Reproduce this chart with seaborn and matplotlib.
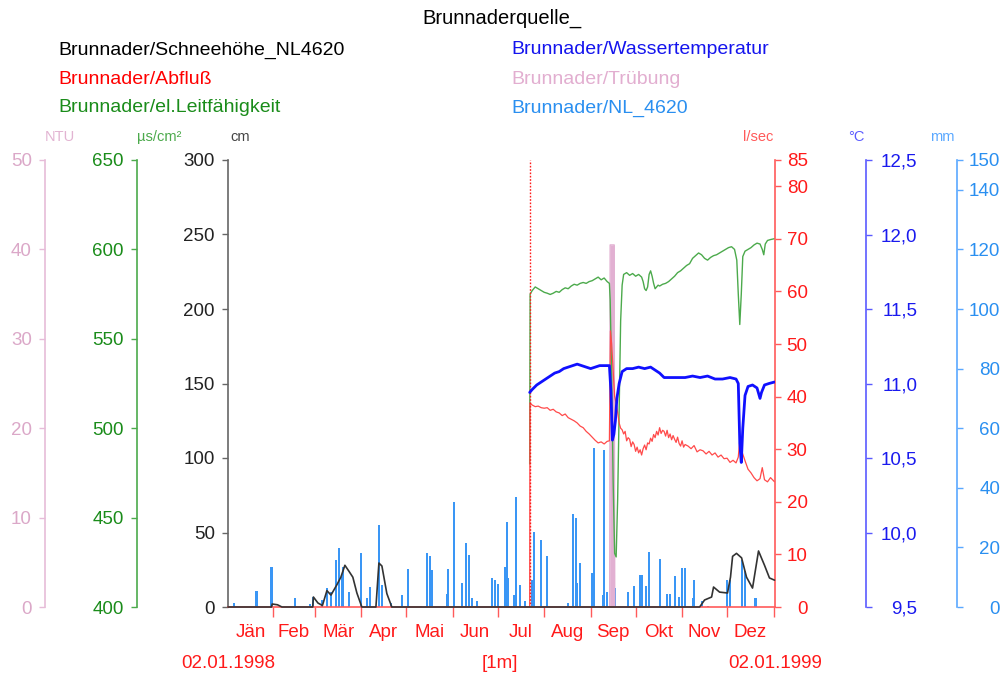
import matplotlib
matplotlib.use("Agg")
import matplotlib.pyplot as plt
import seaborn as sns
import numpy as np
from matplotlib.ticker import FixedLocator, FuncFormatter, NullFormatter

sns.set_theme(style="white")
plt.rcParams['font.family'] = ['Liberation Sans', 'DejaVu Sans']

# ---------------- data (day 0 = 02.01.1998) ----------------
title = "Brunnaderquelle_"
legend_left = ["Brunnader/Schneehöhe_NL4620", "Brunnader/Abfluß", "Brunnader/el.Leitfähigkeit"]
legend_right = ["Brunnader/Wassertemperatur", "Brunnader/Trübung", "Brunnader/NL_4620"]

month_labels = ["Jän", "Feb", "Mär", "Apr", "Mai", "Jun", "Jul", "Aug", "Sep", "Okt", "Nov", "Dez"]
month_start_days = [0, 30, 58, 89, 119, 150, 180, 211, 242, 272, 303, 333, 364]
start_label = "02.01.1998"
end_label = "02.01.1999"
interval_label = "[1m]"
marker_day = 201.3

# snow height (cm)
snow_days = [0, 29, 29.5, 33, 36, 56.5, 57, 60, 63, 66, 68.7, 72.7, 75.3, 78, 80.7, 83.3, 86, 89.3,
             98.7, 100.7, 102.7, 106, 109.3, 314.7, 318, 322.7, 324, 328, 333.3, 335.3, 336.7,
             339.3, 342.7, 346, 350, 354, 358, 361.3, 364.7]
snow_cm = [0, 0, 2, 1.5, 0, 0, 6.7, 2.7, 1, 11, 8, 15, 20, 28, 24, 20, 9.4, 0,
           0, 29.5, 27.5, 9, 0, 0, 4.7, 6.7, 13.4, 10, 9.4, 20, 34,
           36, 33, 20, 12.7, 37.6, 28, 19.5, 18]

# discharge (l/sec)
q_days = [201.3, 201.5, 203, 205, 207, 209, 211, 213, 215, 217, 219, 221, 223, 225, 227, 229, 231, 233,
          235, 237, 239, 241, 243, 245, 247, 249, 251, 253, 254.5, 255.2, 256, 257, 258, 259, 260, 261,
          262, 263, 264, 265, 266, 267, 268, 269, 270, 271, 272, 273, 274, 275, 276, 277, 278, 279, 280,
          281, 282, 283, 284, 285, 286, 287, 288, 289, 290, 291, 292, 293, 294, 295, 296, 297, 298, 299,
          300, 301, 302, 303, 304, 305, 307, 309, 311, 313, 315, 317, 319, 321, 323, 325, 327, 329, 331,
          333, 335, 337, 339, 340.5, 341.5, 343, 345, 347, 349, 351, 353, 355, 356.5, 358, 360, 362, 364.7]
q_ls = [0, 38.8, 38.4, 38.1, 38.2, 37.9, 37.8, 37.9, 37.4, 37.6, 37.1, 36.9, 36.4, 36.7, 36.0, 35.7, 35.4, 35.0,
        34.4, 34.1, 33.4, 32.9, 32.3, 31.7, 31.2, 31.4, 31.0, 31.5, 31.6, 52.5, 50, 45, 40, 38.8, 37, 35,
        34, 33.7, 32.9, 33.4, 31.6, 32.2, 31.9, 30.5, 31.4, 30.9, 29.6, 30.4, 29.3, 29.9, 28.9, 30.1, 30.8, 29.9, 31.2,
        31.0, 32.1, 31.5, 32.8, 32.2, 33.4, 32.7, 34.1, 33.0, 33.6, 33.4, 32.5, 33.6, 32.2, 32.9, 31.8, 32.6, 31.9, 31.3,
        32.3, 31.1, 30.6, 31.6, 30.4, 30.9, 30.6, 30.1, 30.7, 29.5, 29.9, 29.7, 29.1, 29.6, 28.9, 29.3, 28.5, 28.9, 28.2,
        28.3, 27.5, 27.9, 27.4, 28.5, 31.8, 29.5, 27.8, 26.2, 25.5, 24.6, 24.0, 24.4, 26.5, 24.2, 23.8, 24.6, 23.8]

# water temperature (°C)
t_days = [201.3, 203, 206, 209, 212, 215, 218, 221, 224, 227, 230, 233, 236, 239, 242, 245, 248, 251, 254.5,
          255.5, 256.5, 257.5, 258.5, 259.5, 261, 263, 266, 270, 274, 278, 282, 285, 288, 291, 295, 300, 305,
          310, 315, 320, 325, 330, 335, 339, 340.5, 341.5, 342.5, 343.5, 345, 347, 350, 353, 355, 356, 358,
          361, 364.7]
t_c = [10.94, 10.96, 10.99, 11.01, 11.03, 11.05, 11.07, 11.08, 11.10, 11.11, 11.12, 11.13, 11.12, 11.11, 11.10,
       11.11, 11.12, 11.12, 11.12, 10.95, 10.62, 10.66, 10.75, 10.9, 11.0, 11.08, 11.10, 11.10, 11.11, 11.10,
       11.11, 11.09, 11.07, 11.04, 11.04, 11.04, 11.04, 11.05, 11.04, 11.05, 11.03, 11.03, 11.04, 11.03, 11.0,
       10.6, 10.47, 10.7, 10.92, 10.98, 10.99, 10.97, 10.9, 10.94, 10.99, 11.0, 11.01]

# conductivity (µs/cm²)
c_days = [201.3, 201.6, 203, 205, 207, 209, 211, 213, 215, 217, 219, 221, 223, 225, 227, 229, 231, 233, 235,
          237, 239, 241, 243, 245, 247, 249, 251, 253, 254.5, 255, 256, 257, 258, 259, 260, 261, 262, 263, 264,
          266, 268, 270, 272, 274, 276, 277, 278, 279, 280, 281, 282, 283, 284, 285, 286, 287, 288, 290, 292,
          294, 296, 298, 300, 302, 304, 306, 308, 310, 312, 314, 316, 318, 320, 322, 324, 326, 328, 330, 332,
          334, 336, 338, 339.5, 340.5, 341.5, 342.5, 343.5, 345, 347, 349, 351, 353, 355, 356.5, 357.5, 358.5,
          360, 362, 364.7]
c_us = [480, 575, 577, 579, 578, 577, 576, 575.5, 574.8, 575.5, 576.5, 576, 577.5, 578.5, 578, 579.5, 580.5, 580, 581,
        581.5, 581, 582, 582.5, 583.5, 584.5, 583, 584, 582, 581, 572, 530, 470, 430, 428, 460, 510, 560, 580, 586,
        587, 585.5, 586.5, 585, 586, 584.5, 582, 578, 577, 579, 586, 588, 585, 581, 578, 579, 580, 579.5, 580.5, 581,
        582, 583.5, 585, 587, 588, 589.5, 591, 592, 595, 596.5, 598, 597, 595, 594, 595.5, 596.5, 597, 598, 599, 600,
        601, 601.5, 600, 594, 575, 558, 575, 596, 599, 600, 601, 602.5, 603.5, 603, 600, 597, 603,
        605, 605.5, 606]

# turbidity (NTU)
turb_days = [254.7, 255.0, 257.7, 258.0]
turb_ntu = [0, 40.5, 40.5, 0]

# precipitation NL_4620 (mm)
p_days = [4, 19, 29, 45, 55, 57, 63, 66, 69, 72, 74, 76, 77, 81, 89, 93, 95, 101, 103, 109, 116, 120, 129,
          133, 135, 136, 146, 147, 151, 156, 159, 161, 163, 166, 176, 178, 180, 185, 186, 187, 191, 192, 195,
          198, 203, 204, 209, 213, 227, 230, 232, 233, 235, 243, 244, 250, 251, 253, 258, 267, 271, 275, 276,
          279, 281, 288, 293, 295, 298, 301, 303, 305, 310, 311, 316, 320, 333, 335, 343, 345, 352]
p_mm = [1.3, 5.4, 13.4, 3, 1, 3.4, 2.5, 6.4, 5, 15.8, 19.8, 10, 13.4, 5, 18, 3, 6.7, 27.5, 7.5, 1.5, 4, 12.7, 0.5,
        18, 17, 12.4, 4.5, 12.7, 35.2, 8, 21.5, 17.4, 3, 2, 9.7, 9, 7.8, 13.4, 28.5, 9.7, 4, 36.9, 7.4,
        2, 9, 25.2, 22.5, 17, 1.5, 31.2, 30, 8, 14.8, 11.4, 53.4, 4, 52.7, 5, 6.4, 5, 7, 10.7, 10.7,
        7, 18.5, 16, 4.5, 4.5, 10.4, 3.5, 13, 13, 3, 9, 2, 0.5, 9, 9, 15.8, 12, 3]

# ---------------- styling ----------------
C_BLACK = "#222222"
C_RED = "#ff1a1a"
C_RED_LINE = "#ff4a4a"
C_GREEN = "#1a8c1a"
C_GREEN_LINE = "#4caa4c"
C_BLUE = "#1a1aee"
C_BLUE_LINE = "#1010ff"
C_PINK = "#e2b0d2"
C_LBLUE = "#2a8ff0"
C_LBLUE_BAR = "#3a96f5"

W, H = 1005, 675
fig = plt.figure(figsize=(W / 100, H / 100), dpi=100)
fig.patch.set_facecolor("white")
x0, x1, y0, y1 = 228, 775, 160, 607
ax = fig.add_axes([x0 / W, 1 - y1 / H, (x1 - x0) / W, (y1 - y0) / H])
pw = x1 - x0

ax_mm = ax.twinx()
ax_ntu = ax.twinx()
ax_us = ax.twinx()
ax_ls = ax.twinx()
ax_c = ax.twinx()

all_axes = [ax, ax_mm, ax_ntu, ax_us, ax_ls, ax_c]
for a in all_axes:
    a.patch.set_visible(False)
    for s in a.spines.values():
        s.set_visible(False)
    a.grid(False)

# zorder: bars lowest, snow on top
ax_mm.set_zorder(1)
ax_ntu.set_zorder(2)
ax_us.set_zorder(3)
ax_ls.set_zorder(4)
ax_c.set_zorder(5)
ax.set_zorder(6)

TS = 13.5
TL = 4.5

def setup_y(a, side, pos, color, spine_color, lim, ticks, pad, fmt=None, label_color=None, ha=None):
    a.set_ylim(*lim)
    sp = a.spines[side]
    sp.set_visible(True)
    sp.set_position(("axes", pos))
    sp.set_color(spine_color)
    sp.set_linewidth(1.2)
    if side == "left":
        a.yaxis.set_ticks_position("left")
        a.yaxis.set_label_position("left")
    else:
        a.yaxis.set_ticks_position("right")
        a.yaxis.set_label_position("right")
    a.yaxis.set_major_locator(FixedLocator(ticks))
    if fmt is not None:
        a.yaxis.set_major_formatter(FuncFormatter(fmt))
    a.tick_params(axis="y", which="major", direction="out", length=TL, width=1.0,
                  color=spine_color, labelcolor=label_color or color, labelsize=TS, pad=pad)
    if ha is not None:
        for lab in a.get_yticklabels():
            lab.set_ha(ha)

# precipitation bars
ax_mm.bar(p_days, p_mm, width=1.4, color=C_LBLUE_BAR, linewidth=0)
# turbidity
ax_ntu.fill_between(turb_days, turb_ntu, color=C_PINK, linewidth=0)
sns.lineplot(x=turb_days, y=turb_ntu, ax=ax_ntu, color=C_PINK, lw=1, estimator=None, sort=False)
# conductivity
sns.lineplot(x=c_days, y=c_us, ax=ax_us, color=C_GREEN_LINE, lw=1.0, estimator=None, sort=False)
# discharge
sns.lineplot(x=q_days, y=q_ls, ax=ax_ls, color=C_RED_LINE, lw=0.9, estimator=None, sort=False)
ax_ls.axvline(marker_day, color=C_RED, lw=1.0, ls=(0, (1.2, 1.2)))
# temperature
sns.lineplot(x=t_days, y=t_c, ax=ax_c, color=C_BLUE_LINE, lw=2.0, estimator=None, sort=False)
# snow
sns.lineplot(x=snow_days, y=snow_cm, ax=ax, color="#333333", lw=1.2, estimator=None, sort=False,
             zorder=3, clip_on=False)

for a in all_axes:
    a.set_xlim(0, 365)
    a.set_xlabel("")
    a.set_ylabel("")

# y axes
setup_y(ax, "left", 0.0, C_BLACK, "#666666", (0, 300), [0, 50, 100, 150, 200, 250, 300], 5)
setup_y(ax_us, "left", -(x0 - 137) / pw, C_GREEN, "#4caa4c", (400, 650), [400, 450, 500, 550, 600, 650], 5)
setup_y(ax_ntu, "left", -(x0 - 45) / pw, C_PINK, "#e6bcd8", (0, 50), [0, 10, 20, 30, 40, 50], 5,
        label_color="#dba8c8")
setup_y(ax_ls, "right", 1.0, C_RED, "#ff5a5a", (0, 85), [0, 10, 20, 30, 40, 50, 60, 70, 80, 85], 19,
        ha="right")
setup_y(ax_c, "right", (866 - x0) / pw, C_BLUE, "#5a5aff", (9.5, 12.5), [9.5, 10, 10.5, 11, 11.5, 12, 12.5], 32.5,
        fmt=lambda v, p: f"{v:.1f}".replace(".", ","), ha="right")
setup_y(ax_mm, "right", (957 - x0) / pw, C_LBLUE, "#5aa8ff", (0, 150), [0, 20, 40, 60, 80, 100, 120, 140, 150], 26.5,
        ha="right")

# x axis
ax.spines["bottom"].set_visible(True)
ax.spines["bottom"].set_color("#ff5a5a")
ax.spines["bottom"].set_linewidth(1.2)
ax.xaxis.set_ticks_position("bottom")
ax.xaxis.set_major_locator(FixedLocator(month_start_days[1:]))
ax.xaxis.set_major_formatter(NullFormatter())
mids = [(month_start_days[i] + month_start_days[i + 1]) / 2 for i in range(12)]
ax.xaxis.set_minor_locator(FixedLocator(mids))
ax.xaxis.set_minor_formatter(FuncFormatter(lambda v, p: month_labels[p] if p < 12 else ""))
ax.tick_params(axis="x", which="major", direction="out", length=7, width=1.0, color="#ff5a5a")
ax.tick_params(axis="x", which="minor", length=0, labelcolor=C_RED, labelsize=TS, pad=12)

# unit labels
unit_y = 1 - 137 / H
fig.text(45 / W, unit_y, "NTU", color="#e2b4d2", fontsize=10.5, ha="left", va="center")
fig.text(137 / W, unit_y, "µs/cm²", color="#4caa4c", fontsize=10.5, ha="left", va="center")
fig.text(230 / W, unit_y, "cm", color="#444444", fontsize=10.5, ha="left", va="center")
fig.text(773 / W, unit_y, "l/sec", color="#ff5a5a", fontsize=10.5, ha="right", va="center")
fig.text(864 / W, unit_y, "°C", color="#5a5aff", fontsize=10.5, ha="right", va="center")
fig.text(955 / W, unit_y, "mm", color="#5aa8ff", fontsize=10.5, ha="right", va="center")

# bottom date labels
by = 1 - 663 / H
fig.text(x0 / W, by, start_label, color=C_RED, fontsize=TS, ha="center", va="center")
fig.text(500 / W, by, interval_label, color=C_RED, fontsize=TS, ha="center", va="center")
fig.text(x1 / W, by, end_label, color=C_RED, fontsize=TS, ha="center", va="center")

# title and legend
fig.text(502 / W, 1 - 18 / H, title, color="black", fontsize=14.5, ha="center", va="center")
rows = [50, 80, 108]
left_colors = ["black", "#ff0000", "#1a8c1a"]
right_colors = ["#1414ee", "#e2aed0", "#2a8ff0"]
for i in range(3):
    fig.text(58 / W, 1 - rows[i] / H, legend_left[i], color=left_colors[i], fontsize=14, ha="left", va="center")
    fig.text(511 / W, 1 - rows[i] / H, legend_right[i], color=right_colors[i], fontsize=14, ha="left", va="center")

fig.savefig("out.png", dpi=100)
